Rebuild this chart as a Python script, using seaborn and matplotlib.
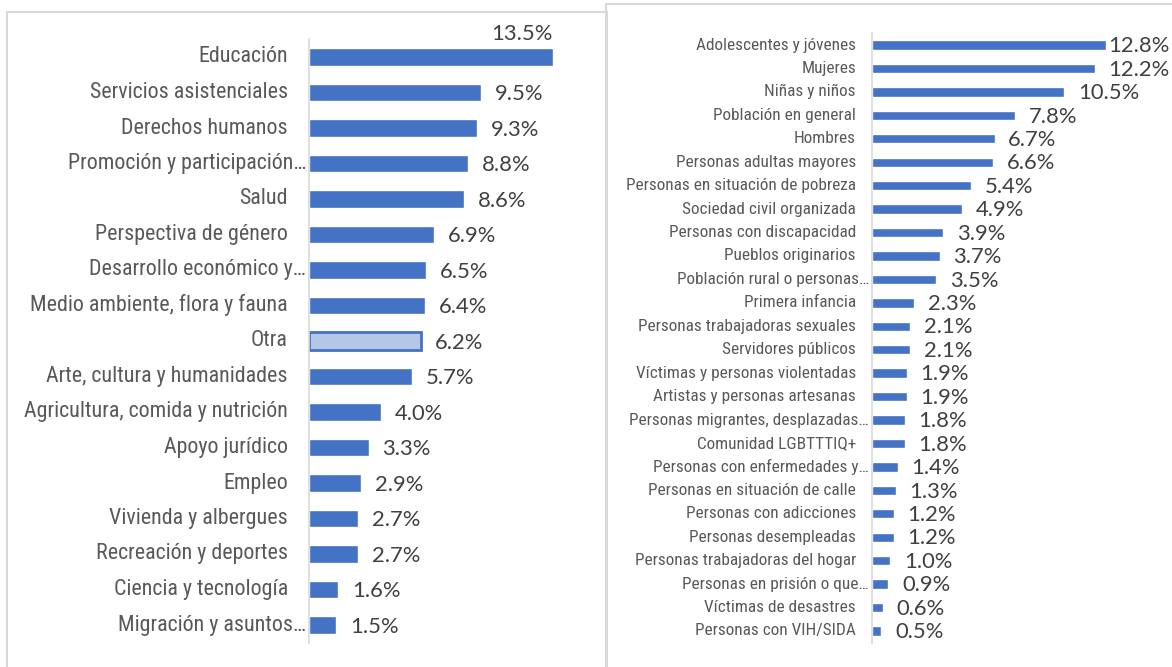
import matplotlib
matplotlib.use("Agg")
import matplotlib.pyplot as plt
import matplotlib.transforms as mtransforms
from matplotlib import font_manager
from matplotlib.patches import Rectangle
import seaborn as sns
import pandas as pd

# left panel: themes
temas = [
    "Educación", "Servicios asistenciales", "Derechos humanos",
    "Promoción y participación…", "Salud", "Perspectiva de género",
    "Desarrollo económico y…", "Medio ambiente, flora y fauna", "Otra",
    "Arte, cultura y humanidades", "Agricultura, comida y nutrición",
    "Apoyo jurídico", "Empleo", "Vivienda y albergues",
    "Recreación y deportes", "Ciencia y tecnología", "Migración y asuntos…",
]
temas_pct = [13.5, 9.5, 9.3, 8.8, 8.6, 6.9, 6.5, 6.4, 6.2, 5.7, 4.0, 3.3,
             2.9, 2.7, 2.7, 1.6, 1.5]

# right panel: populations
poblacion = [
    "Adolescentes y jóvenes", "Mujeres", "Niñas y niños", "Población en general",
    "Hombres", "Personas adultas mayores", "Personas en situación de pobreza",
    "Sociedad civil organizada", "Personas con discapacidad",
    "Pueblos originarios", "Población rural o personas…", "Primera infancia",
    "Personas trabajadoras sexuales", "Servidores públicos",
    "Víctimas y personas violentadas", "Artistas y personas artesanas",
    "Personas migrantes, desplazadas…", "Comunidad LGBTTTIQ+",
    "Personas con enfermedades y…", "Personas en situación de calle",
    "Personas con adicciones", "Personas desempleadas",
    "Personas trabajadoras del hogar", "Personas en prisión o que…",
    "Víctimas de desastres", "Personas con VIH/SIDA",
]
poblacion_pct = [12.8, 12.2, 10.5, 7.8, 6.7, 6.6, 5.4, 4.9, 3.9, 3.7, 3.5, 2.3,
                 2.1, 2.1, 1.9, 1.9, 1.8, 1.8, 1.4, 1.3, 1.2, 1.2, 1.0, 0.9,
                 0.6, 0.5]

BLUE = "#4472c4"
LIGHT = "#b4c7e7"
LABEL_C = "#595959"
VALUE_C = "#404040"
VALUE_FONT = ["Lato", "DejaVu Sans"]

# narrow label font if there is one, else shrink Liberation Sans to the same width
installed = {f.name for f in font_manager.fontManager.ttflist}
for name in ["Roboto Condensed", "Liberation Sans Narrow"]:
    if name in installed:
        LABEL_FONT = [name, "DejaVu Sans"]
        LEFT_SIZE, RIGHT_SIZE = 15.8, 12.45
        break
else:
    LABEL_FONT = ["Liberation Sans", "DejaVu Sans"]
    LEFT_SIZE, RIGHT_SIZE = 14.2, 11.1

W, H = 1172, 667
sns.set_style("white")

fig = plt.figure(figsize=(W / 100, H / 100), dpi=100)


def px_axes(x0, x1, y0, y1):
    # pixel box (top-left origin) -> figure axes
    return fig.add_axes([x0 / W, 1 - y1 / H, (x1 - x0) / W, (y1 - y0) / H])


def draw_panel(ax, cats, vals, xmax, bar_h, lab_size, val_size, lab_pad,
               trunc_pad, val_gap, val_clamp=None, above=None):
    df = pd.DataFrame({"cat": cats, "pct": vals})
    sns.barplot(data=df, x="pct", y="cat", orient="h", color=BLUE,
                width=bar_h, ax=ax, saturation=1)
    ax.set_xlim(0, xmax)
    ax.set_ylim(len(cats) - 0.5, -0.5)
    ax.set_xticks([])
    ax.set_yticks([])
    ax.set_xlabel("")
    ax.set_ylabel("")
    for s in ["top", "right", "bottom"]:
        ax.spines[s].set_visible(False)
    ax.spines["left"].set_color("#d9d9d9")
    ax.spines["left"].set_linewidth(1.2)
    ax.patch.set_alpha(0)

    blend = mtransforms.blended_transform_factory(ax.transAxes, ax.transData)
    for i, (c, v) in enumerate(zip(cats, vals)):
        pad = trunc_pad if c.endswith("…") else lab_pad
        tr = blend + mtransforms.ScaledTranslation(-pad / 100, 0, fig.dpi_scale_trans)
        ax.text(0, i, c, transform=tr, ha="right", va="center",
                fontsize=lab_size, color=LABEL_C, family=LABEL_FONT)
        txt = f"{v:.1f}%"
        if above is not None and v >= above:
            ax.text(v, i - 0.65, txt, ha="right", va="center",
                    fontsize=val_size, color=VALUE_C, family=VALUE_FONT,
                    clip_on=False)
            continue
        x = v + val_gap
        if val_clamp is not None:
            x = min(x, val_clamp)
        ax.text(x, i + 0.05, txt, ha="left", va="center", fontsize=val_size,
                color=VALUE_C, family=VALUE_FONT, clip_on=False)


ax1 = px_axes(309, 309 + 280, 39.25, 642.75)
draw_panel(ax1, temas, temas_pct, 15.5, 0.48, LEFT_SIZE, 15.8, 21, 3, 0.77,
           above=13.0)
# "Otra" bar drawn lighter with blue outline
otra = ax1.patches[temas.index("Otra")]
otra.set_facecolor(LIGHT)
otra.set_edgecolor(BLUE)
otra.set_linewidth(2)

ax2 = px_axes(872, 872 + 292.8, 33.3, 642.7)
draw_panel(ax2, poblacion, poblacion_pct, 16, 0.4, RIGHT_SIZE, 15.8, 16, 3,
           0.75, val_clamp=12.9)

# panel frames
fig.add_artist(Rectangle((7 / W, -0.05), 600 / W, 1.05 - 12 / H,
                         transform=fig.transFigure, fill=False,
                         edgecolor="#d9d9d9", linewidth=1.5))
fig.add_artist(Rectangle((606 / W, -0.05), 600 / W, 1.05 - 4 / H,
                         transform=fig.transFigure, fill=False,
                         edgecolor="#d9d9d9", linewidth=1.5))

fig.savefig("out.png", dpi=100)
